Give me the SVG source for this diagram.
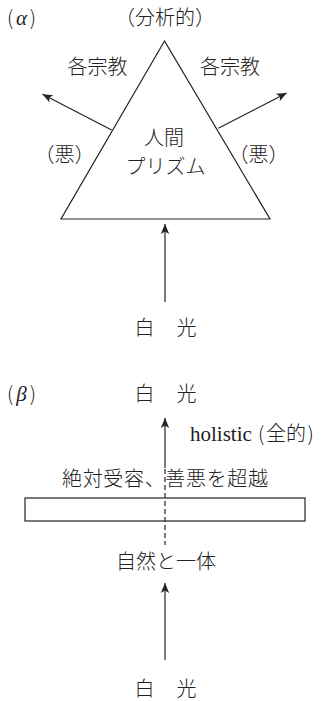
<svg xmlns="http://www.w3.org/2000/svg" width="324" height="701" viewBox="0 0 324 701">
<style>
.jp{font-family:"Noto Sans CJK JP","Noto Sans CJK SC",sans-serif;font-size:20px;font-weight:300;fill:#222}
.en{font-family:"Liberation Serif",serif;font-size:21px;fill:#222}
.gr{font-family:"Liberation Serif",serif;font-style:italic;font-size:21px;fill:#222}
.ln{stroke:#222;stroke-width:1.2;fill:none}
.dash{stroke:#222;stroke-width:1.2;fill:none;stroke-dasharray:5 3}
</style>
<defs>
<marker id="ah" markerUnits="userSpaceOnUse" viewBox="-11 -6 12 12" refX="0" refY="0" markerWidth="12" markerHeight="12" orient="auto">
<path d="M0,0 L-10,-4.2 L-7.5,0 L-10,4.2 Z" fill="#222"/>
</marker>
</defs>
<rect width="324" height="701" fill="#fff"/>

<g id="labelAlpha"><text class="jp" x="7" y="24.5" textLength="29" lengthAdjust="spacing">(<tspan class="gr">α</tspan>)</text></g>
<g id="analytic"><text class="jp" x="165" y="24.5" text-anchor="middle">（分析的）</text></g>

<g id="prism">
<polygon class="ln" points="164.5,41 61,219 270,219"/>
<text class="jp" x="164" y="144.5" text-anchor="middle">人間</text>
<text class="jp" x="165.5" y="173.5" text-anchor="middle">プリズム</text>
</g>
<g id="religionL"><text class="jp" x="97.5" y="73.5" text-anchor="middle">各宗教</text></g>
<g id="religionR"><text class="jp" x="230" y="73.5" text-anchor="middle">各宗教</text></g>
<g id="evilL"><text class="jp" x="64.5" y="161.5" text-anchor="middle">（悪）</text></g>
<g id="evilR"><text class="jp" x="258.5" y="161.5" text-anchor="middle">（悪）</text></g>
<g id="whiteLightA"><text class="jp" y="334.5" text-anchor="middle"><tspan x="144.5">白</tspan><tspan x="186.5">光</tspan></text></g>

<g id="labelBeta"><text class="jp" x="7" y="400.5" textLength="29" lengthAdjust="spacing">(<tspan class="gr">β</tspan>)</text></g>
<g id="whiteLightB1"><text class="jp" y="400.5" text-anchor="middle"><tspan x="144.5">白</tspan><tspan x="186.5">光</tspan></text></g>
<g id="holistic"><text x="190" y="441"><tspan class="en">holistic</tspan><tspan class="jp" x="258">(</tspan><tspan class="jp" x="266">全的</tspan><tspan class="jp" x="307.5">)</tspan></text></g>
<g id="transcend"><text class="jp" x="62" y="486" textLength="206" lengthAdjust="spacing">絶対受容、善悪を超越</text></g>
<g id="filter"><rect class="ln" x="25" y="498" width="280" height="23"/></g>
<g id="oneness"><text class="jp" x="166" y="569" text-anchor="middle">自然と一体</text></g>
<g id="whiteLightB2"><text class="jp" y="695.5" text-anchor="middle"><tspan x="144.5">白</tspan><tspan x="186.5">光</tspan></text></g>

<g id="connectors">
<line class="ln" x1="111.7" y1="130" x2="42.5" y2="94.3" marker-end="url(#ah)"/>
<line class="ln" x1="218.3" y1="128.3" x2="286.7" y2="93" marker-end="url(#ah)"/>
<line class="ln" x1="165" y1="302" x2="165" y2="224" marker-end="url(#ah)"/>
<line class="ln" x1="165" y1="468" x2="165" y2="418" marker-end="url(#ah)"/>
<line class="dash" x1="165" y1="469" x2="165" y2="545"/>
<line class="ln" x1="165" y1="660" x2="165" y2="583" marker-end="url(#ah)"/>
</g>
</svg>
